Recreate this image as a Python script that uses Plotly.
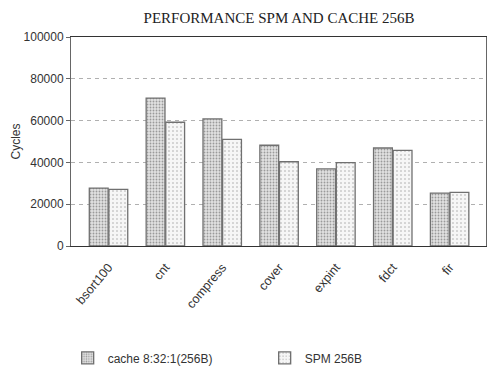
import plotly.graph_objects as go

categories = ["bsort100", "cnt", "compress", "cover", "expint", "fdct", "fir"]
cache_vals = [27700, 70800, 60800, 48200, 36900, 46900, 25300]
spm_vals = [27100, 59200, 51000, 40300, 39900, 45800, 25700]
series_names = ["cache 8:32:1(256B)", "SPM 256B"]
y_ticks = [0, 20000, 40000, 60000, 80000, 100000]

fig = go.Figure()
fig.add_trace(go.Bar(
    x=categories, y=cache_vals, name=series_names[0],
    marker=dict(color="#d0d0d0", line=dict(color="#707070", width=1.3),
                pattern=dict(shape=".", bgcolor="#e2e2e2", fgcolor="#9a9a9a",
                             size=3, solidity=0.3, fillmode="replace")),
))
fig.add_trace(go.Bar(
    x=categories, y=spm_vals, name=series_names[1],
    marker=dict(color="#f4f4f4", line=dict(color="#707070", width=1.3),
                pattern=dict(shape=".", bgcolor="#f6f6f6", fgcolor="#a8a8a8",
                             size=4, solidity=0.12, fillmode="replace")),
))

fig.update_layout(
    width=487, height=374,
    margin=dict(l=71, r=1, t=37, b=128, autoexpand=False),
    paper_bgcolor="white", plot_bgcolor="white",
    barmode="group", bargap=0.31, bargroupgap=0.04,
    title=dict(text="PERFORMANCE SPM AND CACHE 256B",
               font=dict(family="Liberation Serif", size=15, color="#222"),
               x=0.573, xanchor="center", y=0.952, yanchor="middle"),
    font=dict(family="Liberation Sans", size=12, color="#333"),
    showlegend=True,
    legend=dict(orientation="h", x=-0.008, xanchor="left", y=-0.535, yanchor="middle",
                entrywidth=152, entrywidthmode="pixels",
                font=dict(family="Liberation Sans", size=12, color="#333"),
                itemwidth=30, tracegroupgap=0),
)
fig.update_xaxes(
    range=[-0.66, 6.64], tickangle=-50,
    showline=True, linecolor="#333", linewidth=1.2, mirror=True,
    ticks="outside", ticklen=8, tickcolor="rgba(0,0,0,0)", showgrid=False,
    tickfont=dict(family="Liberation Sans", size=12.5, color="#333"),
)
fig.update_yaxes(
    range=[0, 100000], tickvals=y_ticks, ticktext=[str(v) for v in y_ticks],
    showline=True, linecolor="#666", linewidth=1, mirror=True,
    ticks="outside", ticklen=4, tickcolor="#666",
    showgrid=True, gridcolor="#b0b0b0", griddash="4px,4px", gridwidth=1,
    zeroline=False,
    title=dict(text="Cycles", font=dict(family="Liberation Sans", size=12, color="#333"), standoff=0),
    tickfont=dict(family="Liberation Sans", size=12, color="#333"),
)

fig.write_html("out.html")
